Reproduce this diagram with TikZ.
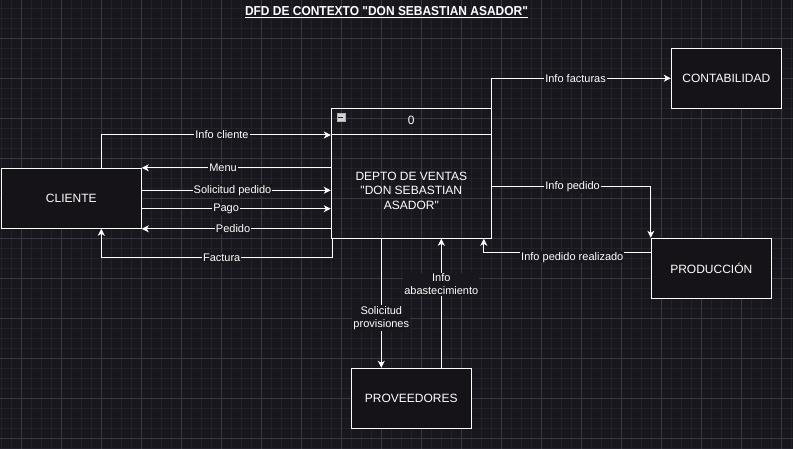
\documentclass[tikz,border=0pt]{standalone}
\usepackage{fontspec}
\setmainfont[Ligatures=TeXOff]{Liberation Sans}
\newfontfamily\titulofont[FakeStretch=0.92,Ligatures=TeXOff]{Liberation Sans}
\usetikzlibrary{arrows.meta,%
		positioning}
\definecolor{fondo}{HTML}{18171E}
\definecolor{cajafondo}{HTML}{161318}
\definecolor{rejilla}{HTML}{23222B}
\definecolor{rejillamayor}{HTML}{3A3941}

\begin{document}
\begin{tikzpicture}[x=1pt,y=-1pt,
	caja/.style={draw=white,line width=1pt,fill=cajafondo,text=white,inner sep=0pt,
		minimum width=120pt,minimum height=60pt,font=\fontsize{12}{14}\selectfont},
	flujo/.style={white,line width=1pt,-{Stealth[length=7pt,width=7pt,inset=2pt]}},
	etq/.style={fill=fondo,text=white,inner sep=1pt,align=center,font=\fontsize{11}{13}\selectfont}]
\useasboundingbox (0,0) rectangle (793,449);
%il fondo
\begin{scope}
\clip (0,0) rectangle (793,449);
\fill[fondo] (0,0) rectangle (793,449);
\draw[rejilla,line width=.8pt,step=10pt,shift={(1.3,8.3)}] (-20,-20) grid (800,460);
\draw[rejillamayor,line width=.8pt,step=40pt,shift={(21.3,38.3)}] (-40,-40) grid (800,480);
\end{scope}

%titolo
\node[text=white,font=\titulofont\bfseries\fontsize{13}{15}\selectfont] (titulo) at (386.5,12.5)
	{\underline{DFD DE CONTEXTO "DON SEBASTIAN ASADOR"}};

%le entita
\node[caja,minimum width=140pt] (cliente) at (71.3,198.3) {CLIENTE};
\node[caja,minimum width=110pt] (contab) at (726.3,78.3) {CONTABILIDAD};
\node[caja] (produccion) at (711.3,268.3) {PRODUCCIÓN};
\node[caja] (proveedores) at (411.3,398.3) {PROVEEDORES};

%il processo
\node[draw=white,line width=1pt,minimum width=160pt,minimum height=130pt] (depto) at (411.3,173.3) {};
\draw[white,line width=1pt] (depto.north west |- 0,134.3) -- (depto.north east |- 0,134.3);
\node[draw=gray!60,fill=gray!35!white,minimum size=8pt,inner sep=0pt] (icono) at (340.8,117.5) {};
\draw[gray!30!black,line width=1pt] ([xshift=-2.5pt]icono.center) -- ([xshift=2.5pt]icono.center);
\node[text=white,font=\fontsize{12}{14}\selectfont] (deptonum) at (411.3,120.7) {0};
\node[text=white,align=center,font=\fontsize{12}{14.5}\selectfont] (deptotxt) at (411.3,190.5)
	{DEPTO DE VENTAS\\"DON SEBASTIAN\\ASADOR"};

%i flussi cliente
\draw[flujo] ([xshift=30pt]cliente.north) |- node[etq,pos=.763] (lcliente) {Info cliente} (depto.west |- 0,135);
\draw[flujo] (depto.west |- cliente.north east) -- node[etq,pos=.57] (lmenu) {Menu} (cliente.north east);
\draw[flujo] (cliente.east |- 0,190.3) -- node[etq,pos=.48] (lsolicitud) {Solicitud pedido} (depto.west |- 0,190.3);
\draw[flujo] (cliente.east |- 0,208.7) -- node[etq,pos=.446] (lpago) {Pago} (depto.west |- 0,208.7);
\draw[flujo] (depto.west |- cliente.south east) -- node[etq,pos=.517] (lpedido) {Pedido} (cliente.south east);
\draw[flujo] ([xshift=2pt]depto.south west) -- ++(0,19) -| node[etq,pos=.24] (lfactura) {Factura} ([xshift=30pt]cliente.south);

%i flussi a destra
\draw[flujo] (depto.north east) |- node[etq,pos=.734] (lfacturas) {Info facturas} (contab.west);
\draw[flujo] (depto.east |- 0,186.7) -| node[etq,pos=.254] (linfopedido) {Info pedido} (produccion.north west);
\draw[flujo] (produccion.west |- 0,252.7) -| node[etq,pos=.235,yshift=-4.5pt] (lrealizado) {Info pedido realizado} ([xshift=-8pt]depto.south east);

%i flussi proveedores
\draw[flujo] ([xshift=-30pt]depto.south) -- node[etq,pos=.613] (lprovisiones) {Solicitud\\provisiones} ([xshift=-30pt]proveedores.north);
\draw[flujo] ([xshift=30pt]proveedores.north) -- node[etq,pos=.648] (labast) {Info\\abastecimiento} ([xshift=30pt]depto.south);

\end{tikzpicture}
\end{document}
